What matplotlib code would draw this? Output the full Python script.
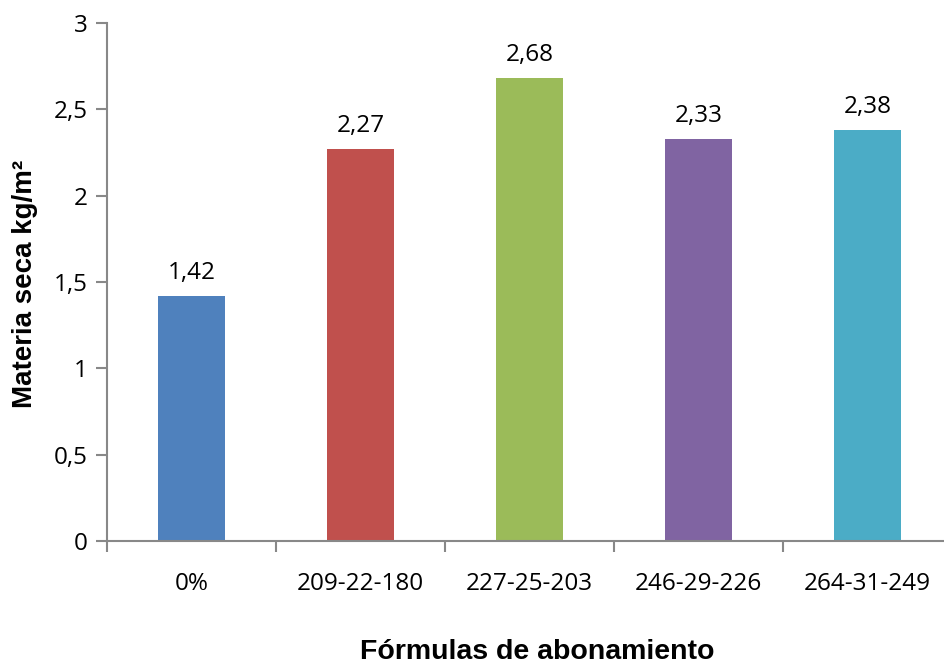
import matplotlib
matplotlib.use("Agg")
from matplotlib import pyplot as plt

# Dry matter yield per fertilizer formula
formulas = ["0%", "209-22-180", "227-25-203", "246-29-226", "264-31-249"]
dry_matter = [1.42, 2.27, 2.68, 2.33, 2.38]
colors = ["#4F81BD", "#C0504D", "#9BBB59", "#8064A2", "#4BACC6"]

AXIS_GREY = "#888888"
TICK_FONT = "Open Sans"
TICK_SIZE = 17.5

fig = plt.figure(figsize=(9.44, 6.64), dpi=100)
ax = fig.add_axes([107 / 944, 1 - 541 / 664, 845 / 944, 518 / 664])

x = list(range(len(formulas)))
ax.bar(x, dry_matter, width=0.40, color=colors, zorder=2)

for xi, v in zip(x, dry_matter):
    ax.annotate(f"{v:.2f}".replace(".", ","), (xi, v), xytext=(0, 8),
                textcoords="offset points", ha="center", va="bottom",
                fontsize=TICK_SIZE, family=TICK_FONT, color="black")

ax.set_xlim(-0.5, len(formulas) - 0.5)
ax.set_ylim(0, 3)
ax.set_yticks([0, 0.5, 1, 1.5, 2, 2.5, 3])
ax.set_yticklabels(["0", "0,5", "1", "1,5", "2", "2,5", "3"],
                   family=TICK_FONT, fontsize=TICK_SIZE)

# category labels centred under bars, ticks on the category boundaries
ax.set_xticks(x)
ax.set_xticklabels(formulas, family=TICK_FONT, fontsize=TICK_SIZE)
ax.tick_params(axis="x", which="major", length=0, pad=22)
ax.set_xticks([i + 0.5 for i in range(-1, len(formulas))], minor=True)
ax.tick_params(axis="x", which="minor", length=8, width=1.5, color=AXIS_GREY)
ax.tick_params(axis="y", length=8, width=1.5, color=AXIS_GREY, pad=6)

for side in ["top", "right"]:
    ax.spines[side].set_visible(False)
for side in ["left", "bottom"]:
    ax.spines[side].set_color(AXIS_GREY)
    ax.spines[side].set_linewidth(1.5)

fig.text(25 / 944, 1 - 284 / 664, "Materia seca kg/m²", rotation=90,
         ha="center", va="center", fontsize=20, fontweight="bold",
         family="Liberation Sans")
fig.text(537 / 944, 1 - 652 / 664, "Fórmulas de abonamiento",
         ha="center", va="center", fontsize=20.5, fontweight="bold",
         family="Liberation Sans")

fig.savefig("out.png", dpi=100)
plt.close()
